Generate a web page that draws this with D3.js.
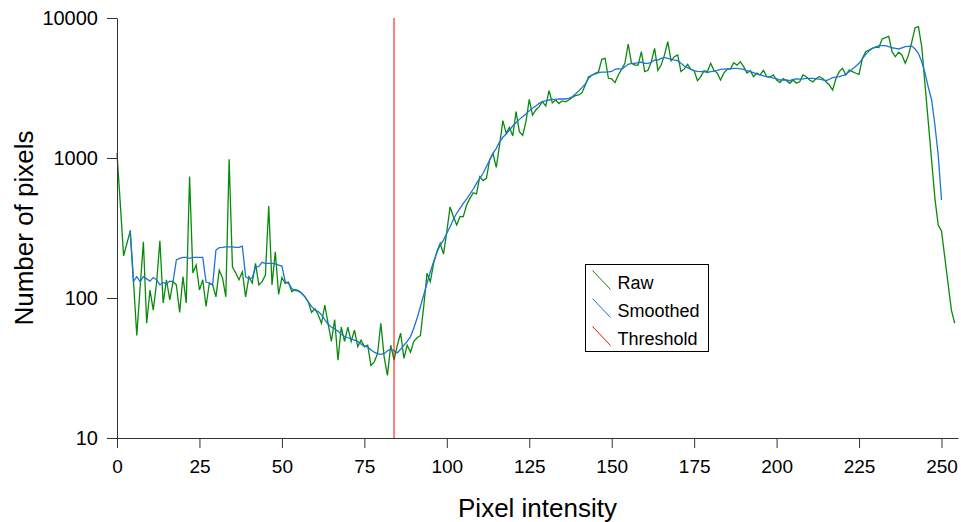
<!DOCTYPE html>
<html>
<head>
<meta charset="utf-8">
<script src="https://cdn.jsdelivr.net/npm/d3@7"></script>
<style>
    body { margin: 0; background: #fff; }
    svg { font-family: 'Liberation Sans', Arial, sans-serif; }
    .axis path, .axis line { stroke: #333; }
    .axis text { fill: #000; }
</style>
</head>
<body>
<div id="chart"></div>
<script>
// Histogram counts per pixel intensity (index = intensity)
const rawCounts = [
    1080, 470, 200, 245, 300, 131, 54, 118, 252, 66,
    114, 82, 128, 256, 92, 135, 97, 131, 124, 79,
    142, 92, 736, 151, 172, 114, 135, 87, 128, 124,
    102, 158, 139, 102, 980, 167, 151, 135, 154, 102,
    142, 128, 177, 124, 131, 146, 454, 124, 214, 106,
    140, 127, 130, 111, 115, 113, 108, 102, 94, 79,
    84, 76, 66, 89, 66, 49, 70, 36, 62, 49,
    62, 49, 59, 45, 50, 45, 46, 33, 35, 40,
    66, 38, 28, 46, 36, 46, 56, 37, 46, 41,
    49, 52, 54, 87, 150, 131, 177, 214, 246, 206,
    298, 447, 381, 332, 381, 381, 461, 515, 565, 555,
    736, 689, 715, 968, 1079, 857, 1239, 1849, 1500, 1655,
    1436, 2143, 1541, 1450, 1820, 2625, 2028, 2203, 2328, 2525,
    2350, 3027, 2475, 2596, 2450, 2560, 2520, 2596, 2710, 2790,
    2820, 2930, 3320, 3810, 3900, 4030, 4130, 5070, 5150, 3710,
    3680, 3455, 3917, 4300, 4745, 6520, 4745, 4610, 4610, 5750,
    4140, 4230, 4870, 6070, 4230, 4610, 5450, 6770, 4955, 5295,
    5450, 4140, 4330, 4670, 4300, 4200, 3565, 3810, 4200, 4140,
    4745, 4230, 4040, 3607, 4040, 4300, 4330, 4800, 4610, 4870,
    4490, 4040, 4200, 3810, 4040, 3917, 4230, 3810, 3780, 3917,
    3607, 3455, 3690, 3565, 3415, 3607, 3415, 3500, 3917, 3810,
    3607, 3500, 3700, 3810, 3700, 3500, 3320, 3060, 3700, 4140,
    4370, 3917, 4250, 4140, 4030, 3960, 5150, 5750, 5910, 6070,
    6200, 6150, 7080, 7250, 7400, 5750, 5300, 5700, 5450, 4745,
    5450, 6770, 8530, 8670, 6240, 3340, 1795, 962, 515, 332,
    301, 195, 126, 82, 66
];

// Smoothed histogram, starts at intensity 4 and ends at 250
const smoothStart = 4;
const smoothedCounts = [
    306, 131, 142, 131, 142, 137, 132, 140, 135, 124,
    129, 126, 132, 131, 187, 192, 195, 195, 192, 195,
    195, 195, 195, 130, 128, 124, 220, 229, 230, 232,
    232, 232, 230, 230, 235, 142, 137, 139, 166, 168,
    180, 177, 177, 177, 175, 172, 169, 131, 127, 117,
    113, 112, 108, 102, 94, 87, 82, 80, 76, 70,
    65, 62, 60, 58, 55, 53, 52, 51, 50, 49,
    47, 45, 45, 42.5, 41, 40, 39.6, 40, 42, 43,
    42, 40.6, 43, 46, 49, 53, 61, 72, 87, 105,
    127, 154, 182, 211, 239, 259, 290, 323, 365, 403,
    437, 474, 509, 553, 598, 659, 716, 778, 867, 968,
    1079, 1172, 1306, 1406, 1483, 1585, 1693, 1787, 1888, 1972,
    2060, 2178, 2266, 2352, 2457, 2525, 2560, 2596, 2620, 2620,
    2640, 2640, 2640, 2670, 2740, 2865, 3010, 3180, 3380, 3710,
    3917, 3980, 4070, 4100, 4100, 4120, 4150, 4300, 4350, 4300,
    4490, 4670, 4745, 4745, 4800, 4830, 4745, 4745, 4830, 5010,
    5010, 5150, 5230, 5150, 5080, 5010, 4955, 4745, 4540, 4420,
    4300, 4200, 4160, 4140, 4140, 4075, 4140, 4180, 4230, 4300,
    4320, 4330, 4330, 4360, 4360, 4330, 4300, 4200, 4140, 4075,
    3980, 3917, 3860, 3810, 3780, 3720, 3690, 3607, 3607, 3607,
    3565, 3650, 3680, 3665, 3680, 3700, 3710, 3700, 3680, 3665,
    3610, 3565, 3650, 3750, 3780, 3810, 3880, 3960, 4130, 4330,
    4530, 4745, 5100, 5500, 5800, 6070, 6200, 6340, 6340, 6340,
    6240, 6130, 6070, 6010, 6120, 6240, 6270, 6300, 6000, 5600,
    4870, 4050, 3200, 2596, 1720, 1050, 501
];

const threshold = 84;
const xTicks = [0, 25, 50, 75, 100, 125, 150, 175, 200, 225, 250];
const yTicks = [10, 100, 1000, 10000];
const legendLabels = ['Raw', 'Smoothed', 'Threshold'];

class HistogramChart {
    constructor(_config) {
        this.config = {
            parentElement: _config.parentElement,
            containerWidth: _config.containerWidth || 961,
            containerHeight: _config.containerHeight || 522,
            margin: _config.margin || { top: 18, right: 3, bottom: 84, left: 117 }
        };
        this.colors = { Raw: '#0a8a0a', Smoothed: '#1c74d6', Threshold: '#ff0000' };
        this.initVis();
    }

    initVis() {
        let vis = this;

        vis.width = vis.config.containerWidth - vis.config.margin.left - vis.config.margin.right;
        vis.height = vis.config.containerHeight - vis.config.margin.top - vis.config.margin.bottom;

        vis.svg = d3.select(vis.config.parentElement)
            .append('svg')
            .attr('width', vis.config.containerWidth)
            .attr('height', vis.config.containerHeight);

        vis.chart = vis.svg.append('g')
            .attr('transform', `translate(${vis.config.margin.left},${vis.config.margin.top})`);

        vis.xScale = d3.scaleLinear()
            .domain([0, 255])
            .range([0, vis.width]);

        vis.yScale = d3.scaleLog()
            .domain([10, 10000])
            .range([vis.height, 0]);

        vis.xAxis = d3.axisBottom(vis.xScale)
            .tickValues(xTicks)
            .tickFormat(d3.format('d'))
            .tickSize(10)
            .tickPadding(12)
            .tickSizeOuter(0);

        vis.yAxis = d3.axisLeft(vis.yScale)
            .tickValues(yTicks)
            .tickFormat(d3.format('d'))
            .tickSize(10)
            .tickPadding(9)
            .tickSizeOuter(0);

        vis.svg.append('text')
            .attr('x', -(vis.config.margin.top + vis.height / 2))
            .attr('y', 33)
            .attr('transform', 'rotate(-90)')
            .style('text-anchor', 'middle')
            .style('font-size', '26px')
            .text('Number of pixels');

        vis.svg.append('text')
            .attr('x', vis.config.margin.left + vis.width / 2)
            .attr('y', 517)
            .style('text-anchor', 'middle')
            .style('font-size', '26px')
            .text('Pixel intensity');

        vis.renderVis();
    }

    renderVis() {
        let vis = this;

        const rawLine = d3.line()
            .x((d, i) => vis.xScale(i))
            .y(d => vis.yScale(d));

        const smoothLine = d3.line()
            .x((d, i) => vis.xScale(i + smoothStart))
            .y(d => vis.yScale(d));

        vis.chart.append('path')
            .datum(rawCounts)
            .attr('fill', 'none')
            .attr('stroke', vis.colors.Raw)
            .attr('stroke-width', 1.3)
            .attr('d', rawLine);

        vis.chart.append('path')
            .datum(smoothedCounts)
            .attr('fill', 'none')
            .attr('stroke', vis.colors.Smoothed)
            .attr('stroke-width', 1.3)
            .attr('d', smoothLine);

        // threshold marker across the full y range
        vis.chart.append('line')
            .attr('x1', vis.xScale(threshold))
            .attr('x2', vis.xScale(threshold))
            .attr('y1', vis.yScale(10))
            .attr('y2', vis.yScale(10000))
            .attr('stroke', vis.colors.Threshold)
            .attr('stroke-width', 1);

        vis.chart.append('g')
            .attr('class', 'axis x-axis')
            .attr('transform', `translate(0,${vis.height})`)
            .call(vis.xAxis)
            .call(g => g.selectAll('text').style('font-size', '19px'));

        vis.chart.append('g')
            .attr('class', 'axis y-axis')
            .call(vis.yAxis)
            .call(g => g.selectAll('text').style('font-size', '20px'));

        vis.renderLegend();
    }

    renderLegend() {
        let vis = this;

        const legend = vis.svg.append('g')
            .attr('class', 'legend')
            .attr('transform', 'translate(585.5,264.5)');

        legend.append('rect')
            .attr('width', 123)
            .attr('height', 87)
            .attr('fill', '#fff')
            .attr('stroke', '#000')
            .attr('stroke-width', 1);

        const item = legend.selectAll('.legend-item')
            .data(legendLabels)
            .join('g')
            .attr('class', 'legend-item')
            .attr('transform', (d, i) => `translate(0,${i * 28})`);

        item.append('line')
            .attr('x1', 7)
            .attr('y1', 6)
            .attr('x2', 25)
            .attr('y2', 25)
            .attr('stroke', d => vis.colors[d])
            .attr('stroke-width', 1);

        item.append('text')
            .attr('x', 32)
            .attr('y', 24)
            .style('font-size', '18px')
            .text(d => d);
    }
}

new HistogramChart({ parentElement: '#chart' });
</script>
</body>
</html>
